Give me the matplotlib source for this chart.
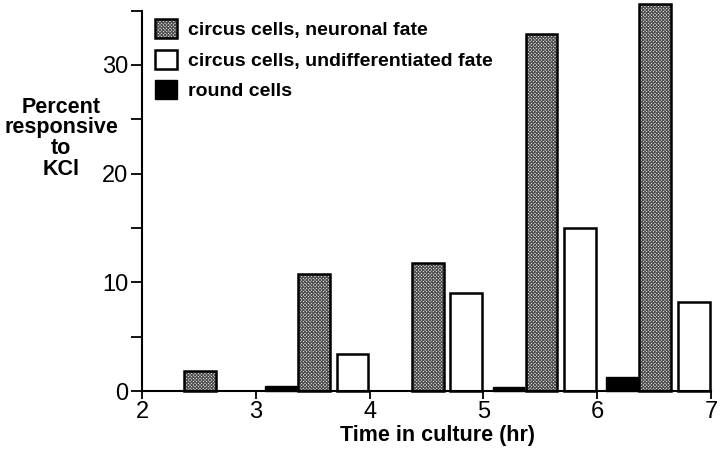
import matplotlib
matplotlib.use("Agg")
import matplotlib.pyplot as plt
from matplotlib.patches import Patch
from matplotlib.legend_handler import HandlerTuple

plt.rcParams['font.family'] = ['Liberation Sans', 'DejaVu Sans']
plt.rcParams['hatch.linewidth'] = 0.8

hours = [2, 3, 4, 5, 6]
neuronal = [1.8, 10.8, 11.8, 32.8, 35.6]
undiff = [0.0, 3.4, 9.0, 15.0, 8.2]
round_cells = [0.0, 0.5, 0.0, 0.4, 1.3]
labels = ["circus cells, neuronal fate", "circus cells, undifferentiated fate", "round cells"]
ylabel_lines = ["Percent", "responsive", "to", "KCl"]

fig = plt.figure(figsize=(7.2, 4.49), dpi=100)
ax = fig.add_axes([142/720, 1-391/449, (711-142)/720, (391-4)/449])

w = 0.28
fill_kw = dict(facecolor='#e4e4e4', edgecolor='#505050', hatch='xxxxxxxxxx', linewidth=0)
edge_kw = dict(fill=False, edgecolor='black', linewidth=1.8)
for h, n, u, r in zip(hours, neuronal, undiff, round_cells):
    if r > 0:
        ax.bar(h + 0.22, r, w, color='black', edgecolor='black', linewidth=1.0, clip_on=False)
    ax.bar(h + 0.51, n, w, clip_on=False, **fill_kw)
    ax.bar(h + 0.51, n, w, clip_on=False, **edge_kw)
    if u > 0:
        ax.bar(h + 0.85, u, w, facecolor='white', edgecolor='black', linewidth=1.8, clip_on=False)

ax.set_xlim(2, 7)
ax.set_ylim(0, 35.6)
ax.spines['top'].set_visible(False)
ax.spines['right'].set_visible(False)
ax.spines['left'].set_bounds(0, 35)
for s in ('left', 'bottom'):
    ax.spines[s].set_linewidth(1.5)
ax.set_xticks([2, 3, 4, 5, 6, 7])
ax.set_yticks([0, 10, 20, 30])
ax.set_yticks([5, 15, 25, 35], minor=True)
ax.tick_params(axis='both', which='both', direction='out', width=1.3, labelsize=17)
ax.tick_params(axis='y', which='both', length=8, pad=2)
ax.tick_params(axis='x', length=6, pad=1)

handles = [(Patch(**fill_kw), Patch(**edge_kw)),
           Patch(facecolor='white', edgecolor='black', linewidth=1.8),
           Patch(facecolor='black', edgecolor='black')]
ax.legend(handles, labels, loc='upper left', bbox_to_anchor=(0.023, 0.962), frameon=False,
          borderpad=0, borderaxespad=0, handlelength=1.13, handleheight=1.13,
          handletextpad=0.55, labelspacing=0.55, prop={'weight': 'bold', 'size': 14},
          handler_map={tuple: HandlerTuple(ndivide=1, pad=0)})

for line, base in zip(ylabel_lines, [113, 133, 154, 175]):
    fig.text(61/720, 1-base/449, line, ha='center', va='baseline',
             fontsize=15.5, fontweight='bold')
fig.text(438/720, 1-436/449, "Time in culture (hr)", ha='center', va='center',
         fontsize=15.5, fontweight='bold')

fig.savefig("out.png", dpi=100)
